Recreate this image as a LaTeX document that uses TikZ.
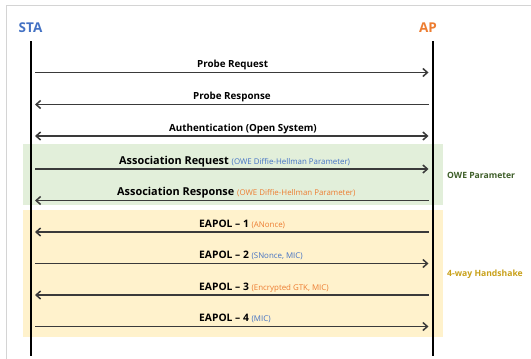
\documentclass[tikz,border=0pt]{standalone}
\usepackage{fontspec}
\setmainfont{Open Sans}
\usetikzlibrary{arrows.meta}
\definecolor{stablue}{HTML}{4472C4}
\definecolor{aporange}{HTML}{ED7D31}
\definecolor{owegreen}{HTML}{E2EFDA}
\definecolor{hsyellow}{HTML}{FFF2CC}
\definecolor{owetext}{HTML}{3F5F2A}
\definecolor{hstext}{HTML}{C9A11A}
\definecolor{arrowgray}{HTML}{3A3A3A}
\definecolor{framegray}{HTML}{D4D4D4}
\newcommand{\prm}[2]{{\mdseries\fontsize{7.9}{9}\selectfont\color{#1}#2}}
\tikzset{
  tipx/.tip={Straight Barb[length=4.5pt,width=8pt,line width=1.5pt]},
  msg/.style={draw=arrowgray, line width=1.6pt, -tipx},
  msgboth/.style={draw=arrowgray, line width=1.6pt, tipx-tipx},
  lbl/.style={anchor=base west, inner sep=0pt, font=\bfseries\fontsize{9.8}{11}\selectfont, text=black},
  biglbl/.style={lbl, font=\bfseries\fontsize{10.9}{12}\selectfont},
  eaplbl/.style={lbl, font=\bfseries\fontsize{10.3}{12}\selectfont},
  life/.style={draw=black, line width=1.3pt},
  ent/.style={font=\bfseries\fontsize{13.5}{16}\selectfont, inner sep=0pt},
  grp/.style={font=\bfseries\fontsize{8.6}{10}\selectfont, anchor=west, inner sep=0pt}
}
\begin{document}
\begin{tikzpicture}[x=1pt,y=-1pt]
\useasboundingbox (0,0) rectangle (531,359);
\fill[white] (0,0) rectangle (531,359);
\draw[framegray, line width=1.4pt] (531,5.5) -- (6.5,5.5) -- (6.5,359);
% group boxes
\fill[owegreen] (23,144) rectangle (443,205);
\fill[hsyellow] (23,210) rectangle (443,337);
% entities
\node[ent, text=stablue] (sta) at (30.5,27.5) {STA};
\node[ent, text=aporange] (ap) at (428,27.5) {AP};
\coordinate (statop) at (31,41);
\coordinate (stabot) at (31,356);
\coordinate (aptop) at (433,41);
\coordinate (apbot) at (433,356);
\draw[life] (statop) -- (stabot);
\draw[life] (aptop) -- (apbot);
% message end points
\foreach \i/\y in {1/72.5,2/104.5,3/136,4/169,5/200.5,6/232,7/263.5,8/295,9/326.5}{
  \coordinate (s\i) at (35,\y);
  \coordinate (a\i) at (428.5,\y);
}
\draw[msg] (s1) -- (a1);
\draw[msg] (a2) -- (s2);
\draw[msgboth] (s3) -- (a3);
\draw[msg] (s4) -- (a4);
\draw[msg] (a5) -- (s5);
\draw[msg] (a6) -- (s6);
\draw[msg] (s7) -- (a7);
\draw[msg] (a8) -- (s8);
\draw[msg] (s9) -- (a9);
% labels
\node[lbl] (l1) at (197,67.5) {Probe Request};
\node[lbl] (l2) at (193,99.5) {Probe Response};
\node[lbl] (l3) at (169,131) {Authentication (Open System)};
\node[biglbl] (l4) at (119,164) {Association Request \prm{stablue}{(OWE Diffie-Hellman Parameter)}};
\node[biglbl] (l5) at (117,195.5) {Association Response \prm{aporange}{(OWE Diffie-Hellman Parameter)}};
\node[eaplbl] (l6) at (199,227) {EAPOL – 1 \prm{aporange}{(ANonce)}};
\node[eaplbl] (l7) at (199,258.5) {EAPOL – 2 \prm{stablue}{(SNonce, MIC)}};
\node[eaplbl] (l8) at (199,290) {EAPOL – 3 \prm{aporange}{(Encrypted GTK, MIC)}};
\node[eaplbl] (l9) at (199,321.5) {EAPOL – 4 \prm{stablue}{(MIC)}};
% group labels
\node[grp, text=owetext] (g1) at (447,175) {OWE Parameter};
\node[grp, text=hstext] (g2) at (447,274) {4-way Handshake};
\end{tikzpicture}
\end{document}
